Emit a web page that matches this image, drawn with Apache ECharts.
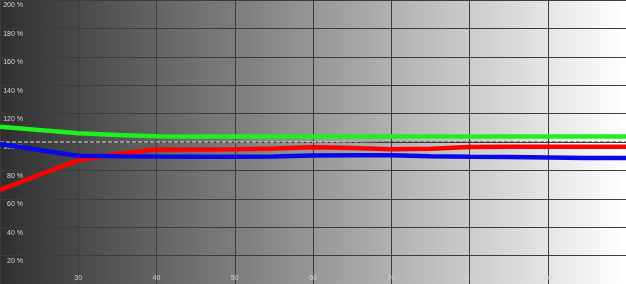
<!DOCTYPE html>
<html>
<head>
<meta charset="utf-8">
<script src="https://cdn.jsdelivr.net/npm/echarts@6/dist/echarts.min.js"></script>
<style>html,body{margin:0;padding:0;background:#fff}#c{width:626px;height:284px}</style>
</head>
<body>
<div id="c"></div>
<script>
var xValues = [20,25,30,35,40,45,50,55,60,65,70,75,80,85,90,95,100];
var greenValues = [110.8,108.4,106.1,104.9,104.1,103.9,103.8,103.8,103.8,103.8,103.8,103.8,103.8,103.8,103.8,103.8,103.8];
var redValues = [66.2,76.8,87.1,91.5,94.8,94.8,94.9,95.5,96.3,95.7,94.9,95.3,96.5,96.6,96.7,96.7,96.7];
var blueValues = [98.6,94.3,90.3,90.0,89.8,89.7,89.7,89.8,90.5,90.6,90.6,90.0,89.7,89.5,89.1,88.7,88.7];
var referenceValue = 100;
var yTicks = [0,20,40,60,80,100,120,140,160,180,200];
var xTicks = [20,30,40,50,60,70,80,90,100];

function pairs(vals){ return xValues.map(function(x,i){ return [x, vals[i]]; }); }

var chart = echarts.init(document.getElementById('c'), null, {renderer:'canvas'});
var bg = new echarts.graphic.LinearGradient(0,0,1,0,[
  {offset:0,color:'#2f2f2f'},{offset:1,color:'#ffffff'}]);
var dashColor = new echarts.graphic.LinearGradient(0,0,626,0,[
  {offset:0,color:'#e0e0e0'},{offset:0.54,color:'#dddddd'},
  {offset:0.62,color:'#3a3a3a'},{offset:1,color:'#333333'}], true);

chart.setOption({
  animation:false,
  grid:{left:0,right:0,top:0,bottom:0,show:true,backgroundColor:bg,borderWidth:0},
  xAxis:{type:'value',min:xTicks[0],max:xTicks[xTicks.length-1],interval:10,
    axisLine:{show:false},axisTick:{show:false},
    splitLine:{show:true,lineStyle:{color:'#3c3c3c',width:1}},
    axisLabel:{inside:true,margin:2,showMinLabel:false,showMaxLabel:false,
      color:'#d2d2d2',fontSize:7,fontFamily:'Liberation Sans, Arial, sans-serif'}},
  yAxis:{type:'value',min:yTicks[0],max:yTicks[yTicks.length-1],interval:20,
    axisLine:{show:false},axisTick:{show:false},
    splitLine:{show:true,lineStyle:{color:'#3c3c3c',width:1}},
    axisLabel:{inside:true,margin:23,align:'right',verticalAlign:'top',padding:[2,0,0,0],
      showMinLabel:false,color:'#d8d8d8',fontSize:7,fontFamily:'Liberation Sans, Arial, sans-serif',
      formatter:function(v){return v===0?'':v+' %';}}},
  series:[
    {type:'line',data:[[xValues[0],referenceValue],[xValues[xValues.length-1],referenceValue]],
      symbol:'none',lineStyle:{color:dashColor,width:1,type:[4,2]},z:1},
    {type:'line',data:pairs(greenValues),symbol:'none',lineStyle:{color:'#1ef01e',width:4.5},z:3},
    {type:'line',data:pairs(redValues),symbol:'none',lineStyle:{color:'#ff0000',width:4.5},z:3},
    {type:'line',data:pairs(blueValues),symbol:'none',lineStyle:{color:'#0808e8',width:4.5},z:4}
  ]
});
</script>
</body>
</html>
